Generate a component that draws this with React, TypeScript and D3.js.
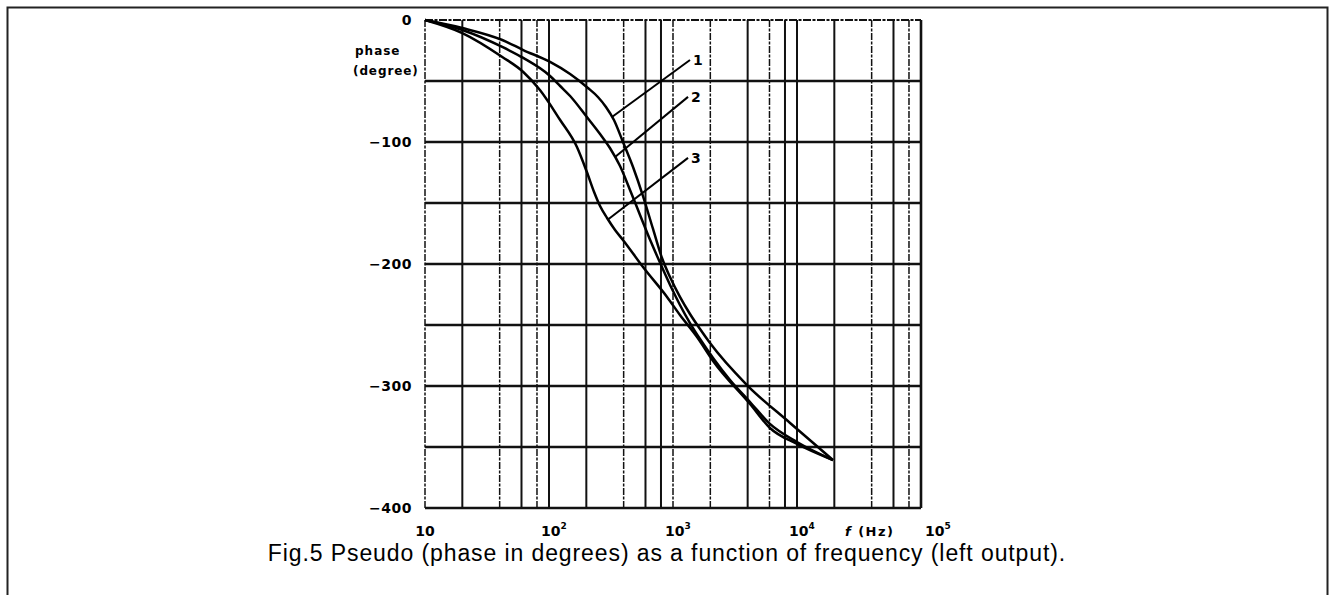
import React from 'react';
import * as d3 from 'd3';

// Frequency grid lines (Hz) and whether each is drawn as a broken (dotted) line
const freqGrid = [10, 20, 40, 60, 80, 100, 200, 400, 600, 800, 1000, 2000, 4000, 6000, 8000, 10000, 20000, 40000, 60000, 80000, 100000];
const freqGridDashed = [true, false, true, false, true, false, false, true, false, false, true, true, false, true, false, false, false, true, false, true, false];
const phaseGrid = [0, -50, -100, -150, -200, -250, -300, -350, -400];
const phaseTickLabels = [0, -100, -200, -300, -400];
const decadeTicks = [10, 100, 1000, 10000, 100000];
const decadeExp = ['', '2', '3', '4', '5'];

// Curve 1
const curve1F = [10, 20, 42, 62, 102, 148, 206, 248, 288, 334, 395, 476, 573, 690, 815, 946, 1138, 1371, 1652, 1988, 3950, 8790, 19500];
const curve1P = [0, -6.6, -16.4, -24.6, -34.4, -44.3, -55.7, -63.1, -71.3, -82, -100, -120.5, -144.3, -171.3, -195.1, -210.7, -227, -241, -253.3, -264.8, -299.2, -330.3, -360.7];
// Curve 2
const curve2F = [10, 20, 42, 62, 102, 123, 148, 202, 258, 310, 374, 450, 542, 665, 815, 982, 1138, 1371, 1652, 2104, 2884, 4180, 6050, 10000, 19500];
const curve2P = [0, -8.2, -22.1, -31.1, -45.9, -54.1, -62.3, -79.5, -93.4, -104.9, -119.7, -139.3, -159.8, -182, -202.5, -220.5, -233.6, -248.4, -261.5, -277, -295.1, -313.1, -331.1, -345.9, -360.7];
// Curve 3
const curve3F = [10, 20, 42, 62, 84.5, 123, 168, 202, 231, 258, 294, 341, 395, 573, 895, 1138, 1563, 2104, 4180, 6050, 10000, 19500];
const curve3P = [0, -10.7, -30.3, -42.6, -57.4, -82, -104.1, -124.6, -141, -152.5, -162.3, -172.1, -180.3, -202.5, -227, -241.8, -259.8, -279.5, -314.8, -334.4, -347.5, -360.7];

// Curve labels with leader lines: anchor on curve, label point
const labelNames = ['1', '2', '3'];
const labelAnchorF = [322, 341, 299];
const labelAnchorP = [-79.5, -112.3, -163.5];
const labelEndF = [1371, 1322, 1322];
const labelEndP = [-32.8, -63, -113];

const caption = 'Fig.5  Pseudo (phase in degrees) as a function of frequency (left output).';

export default function App() {
  const W = 1329, H = 595;
  const x = d3.scaleLog().domain([10, 100000]).range([425, 921]);
  const y = d3.scaleLinear().domain([0, -400]).range([20, 508]);
  const line = d3.line<[number, number]>()
    .x(d => x(d[0]))
    .y(d => y(d[1]))
    .curve(d3.curveMonotoneX);
  const curves = [
    curve1F.map((f, i) => [f, curve1P[i]] as [number, number]),
    curve2F.map((f, i) => [f, curve2P[i]] as [number, number]),
    curve3F.map((f, i) => [f, curve3P[i]] as [number, number]),
  ];
  const boldFont = '"DejaVu Sans", sans-serif';
  return (
    <svg width={W} height={H} style={{ position: 'absolute', left: 0, top: 0, background: '#fff' }}>
      <rect x={7.5} y={7.5} width={1320} height={700} fill="none" stroke="#222" strokeWidth={2} />
      {/* vertical grid */}
      {freqGrid.map((f, i) => (
        <line key={'v' + i} x1={x(f)} x2={x(f)} y1={y(0)} y2={y(-400)}
          stroke="#111" strokeWidth={freqGridDashed[i] ? 1.5 : (f === 100000 ? 2.6 : 2)}
          strokeDasharray={freqGridDashed[i] ? '7 1.5 3 1.5' : undefined} />
      ))}
      {/* horizontal grid */}
      {phaseGrid.map((p, i) => (
        <line key={'h' + i} x1={x(10)} x2={x(100000)} y1={y(p)} y2={y(p)}
          stroke="#111" strokeWidth={p === 0 ? 1.8 : 2.5}
          strokeDasharray={p === 0 ? '8 1.5 3 1.5' : undefined} />
      ))}
      {/* curves */}
      {curves.map((c, i) => (
        <path key={'c' + i} d={line(c) || ''} fill="none" stroke="#000" strokeWidth={2.5} strokeLinejoin="round" />
      ))}
      {/* leader lines and labels */}
      {labelNames.map((n, i) => (
        <g key={'l' + i}>
          <line x1={x(labelAnchorF[i])} y1={y(labelAnchorP[i])} x2={x(labelEndF[i])} y2={y(labelEndP[i])}
            stroke="#000" strokeWidth={2} />
          <text x={x(labelEndF[i]) + 3} y={y(labelEndP[i])} dominantBaseline="central"
            fontFamily={boldFont} fontWeight="bold" fontSize={14}>{n}</text>
        </g>
      ))}
      {/* y tick labels */}
      {phaseTickLabels.map((p, i) => (
        <text key={'yl' + i} x={412} y={y(p)} textAnchor="end" dominantBaseline="central"
          fontFamily={boldFont} fontWeight="bold" fontSize={14} letterSpacing={0.5}>
          {p === 0 ? '0' : '\u2212' + Math.abs(p)}
        </text>
      ))}
      <text x={355} y={55} fontFamily={boldFont} fontWeight="bold" fontSize={12} letterSpacing={1}>phase</text>
      <text x={353} y={75} fontFamily={boldFont} fontWeight="bold" fontSize={12} letterSpacing={0.9}>(degree)</text>
      {/* x tick labels */}
      {decadeTicks.map((v, i) => (
        decadeExp[i] === '' ? (
          <text key={'xl' + i} x={x(v)} y={536} textAnchor="middle"
            fontFamily={boldFont} fontWeight="bold" fontSize={14}>10</text>
        ) : (
          <text key={'xl' + i} x={x(v) + (i === decadeTicks.length - 1 ? 4 : -8)} y={536}
            fontFamily={boldFont} fontWeight="bold" fontSize={14}>
            10<tspan dy={-7} fontSize={9}>{decadeExp[i]}</tspan>
          </text>
        )
      ))}
      <text x={845} y={536} fontFamily={boldFont} fontWeight="bold" fontSize={13} letterSpacing={1.5}>
        <tspan fontStyle="italic">f</tspan> (Hz)
      </text>
      <text x={667} y={561} textAnchor="middle" fontFamily='"Liberation Sans", Arial, sans-serif' fontSize={23} letterSpacing={0.9}>
        {caption}
      </text>
    </svg>
  );
}
